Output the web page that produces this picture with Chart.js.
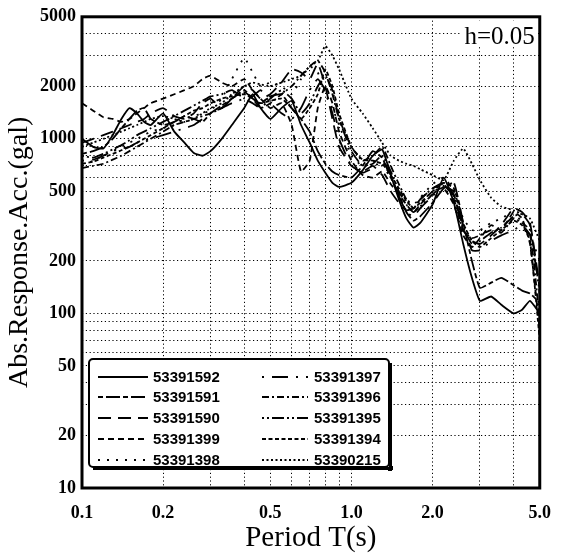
<!DOCTYPE html>
<html><head><meta charset="utf-8">
<script src="https://cdn.jsdelivr.net/npm/chart.js@4/dist/chart.umd.min.js"></script>
<style>html,body{margin:0;padding:0;background:#fff}canvas{display:block}</style>
</head><body>
<canvas id="c" width="566" height="553"></canvas>
<script>
// ---- data ----
const periods = [0.1,0.11,0.12,0.13,0.14,0.15,0.16,0.17,0.18,0.2,0.22,0.24,0.26,0.28,0.3,0.33,0.36,0.4,0.43,0.46,0.5,0.55,0.6,0.65,0.7,0.75,0.8,0.85,0.9,1.0,1.1,1.2,1.3,1.4,1.5,1.6,1.7,1.8,2.0,2.2,2.4,2.6,2.8,3.0,3.3,3.6,4.0,4.3,4.6,5.0];
const seriesNames = ['53391592','53391591','53391590','53391399','53391398','53391397','53391396','53391395','53391394','53390215'];
const s53391592 = [1000,900,880,1050,1300,1500,1400,1250,1200,1400, 1100,950,830,800,850, 1000,1200,1500,1800,1500,1300, 1500,1650,1200,950,750,640,560,530,560, 660,800,870,620,450,350,310,330,420, 600,430,250,160,118, 125,112,100,105,118,100];
const s53391591 = [820,850,900,1000,1150,1300,1450,1500,1300,1200, 1250,1350,1300,1250,1400, 1550,1700,1900,1700,1600,1750, 1800,1500,1300,1100,850,720,650,620,600, 700,850,780,600,480,380,340,360,430, 520,560,330,200,140, 150,160,145,135,130,115];
const s53391590 = [950,1000,1050,1100,1150,1200,1250,1300,1400,1500, 1350,1300,1400,1600,1700, 1500,1700,2000,1900,1700,1800, 2100,2500,2400,2200,2700,2000,1300,900,700, 650,700,620,500,430,390,400,450,520, 560,480,300,260,250, 280,320,400,380,330,140];
const s53391399 = [1600,1450,1330,1300,1250,1300,1400,1500,1600,1700, 1800,1900,2000,2200,2300, 2100,2000,2200,1900,1700,1500, 1600,1200,650,750,1500,2000,1600,1100,750, 620,600,650,550,480,420,380,420,500, 520,420,280,240,270, 320,300,380,350,250,80];
const s53391398 = [700,750,800,850,900,950,1000,1050,1100,1150, 1200,1300,1350,1400,1450, 1700,2200,2900,2400,2000,2100, 2000,1800,2200,2600,2400,1800,1500,1200,800, 700,750,700,600,500,450,420,460,550, 600,500,350,300,300, 330,350,380,330,280,200];
const s53391397 = [750,760,800,850,880,900,950,980,1000,1050, 1100,1150,1200,1300,1400, 1500,1600,1700,1750,1900,1600, 1400,1300,1500,1900,2200,1900,1400,1000,700, 640,680,750,620,470,380,360,400,470, 530,500,320,230,230, 260,280,300,320,280,140];
const s53391396 = [680,700,720,760,800,850,900,950,1000,1100, 1200,1250,1300,1350,1400, 1500,1700,1850,1700,1500,1600, 1800,2000,2300,2600,2800,2400,1800,1300,900, 750,800,900,700,550,450,400,450,520, 550,450,300,270,280, 300,290,350,330,300,90];
const s53391395 = [800,780,820,870,920,980,1050,1100,1150,1250, 1350,1450,1550,1650,1750, 1800,1900,1700,1600,1500,1700, 1900,1700,1400,1600,2000,2300,1900,1300,850, 700,720,800,650,500,420,380,410,480, 540,470,310,250,260, 290,310,360,370,320,130];
const s53391394 = [720,740,780,820,860,900,950,1000,1050,1150, 1250,1350,1450,1500,1600, 1700,1750,1800,1700,1600,1650, 1700,1500,1300,1500,1800,2500,2000,1400,900, 760,750,720,620,520,440,400,430,500, 560,520,330,260,240, 270,300,340,320,260,70];
const s53390215 = [900,950,1000,1050,1100,1150,1200,1250,1300,1350, 1300,1250,1300,1400,1500, 1600,1800,2000,2100,2050,2000, 2100,2200,2300,2600,2800,3400,3000,2500,1700, 1400,1150,950,800,750,720,700,670,620, 580,750,880,720,580, 460,410,390,370,350,260];
const seriesValues = [s53391592,s53391591,s53391590,s53391399,s53391398,s53391397,s53391396,s53391395,s53391394,s53390215];

const xTickValues = [0.1,0.2,0.3,0.4,0.5,0.6,0.7,0.8,0.9,1,2,3,4,5];
const xTickLabels = ['0.1','0.2','','','0.5','','','','','1.0','2.0','','','5.0'];
const yTickValues = [10,20,30,40,50,60,70,80,90,100,200,300,400,500,600,700,800,900,1000,2000,3000,4000,5000];
const yLabelled = [10,20,50,100,200,500,1000,2000,5000];
const dampingText = 'h=0.05';
const xTitle = 'Period T(s)';
const yTitle = 'Abs.Response.Acc.(gal)';

// ---- styles ----
const dashes = [[], [5,3,14,3], [13,7], [6,4], [2,7], [2,8,16,8], [7,3,2,3], [2,3,2,3,12,3], [4,2.5], [2,2.5]];

const datasets = seriesNames.map((name, i) => ({
  label: name,
  data: periods.map((p, j) => ({x: p, y: seriesValues[i][j]})),
  borderColor: '#000',
  borderWidth: 1.8,
  borderDash: dashes[i],
  pointRadius: 0,
  tension: 0.15,
  fill: false
}));

const frameLegend = {
  id: 'frameLegend',
  afterDraw(chart) {
    const ctx = chart.ctx, a = chart.chartArea;
    ctx.save();
    // h label
    ctx.font = '25px "Liberation Serif"';
    ctx.textAlign = 'right';
    ctx.textBaseline = 'alphabetic';
    const tw = ctx.measureText(dampingText).width;
    ctx.fillStyle = '#fff';
    ctx.fillRect(a.right - 6 - tw - 3, a.top + 4, tw + 6, 26);
    ctx.fillStyle = '#000';
    ctx.fillText(dampingText, a.right - 5, a.top + 27);
    // frame
    ctx.lineWidth = 3;
    ctx.strokeStyle = '#000';
    ctx.strokeRect(a.left, a.top, a.right - a.left, a.bottom - a.top);
    // legend box
    const x0 = 89, y0 = 359, w = 300, h = 108;
    ctx.fillStyle = '#000';
    ctx.fillRect(x0 + 4, y0 + h - 1, w, 4);
    ctx.fillRect(x0 + w - 1, y0 + 4, 4, h);
    ctx.fillStyle = '#fff';
    ctx.fillRect(x0, y0, w, h);
    ctx.lineWidth = 2;
    ctx.beginPath();
    if (ctx.roundRect) ctx.roundRect(x0, y0, w, h, 4); else ctx.rect(x0, y0, w, h);
    ctx.stroke();
    const rows = [377, 397, 418, 439, 460];
    ctx.font = 'bold 15px "Liberation Sans"';
    ctx.textAlign = 'left';
    ctx.textBaseline = 'middle';
    chart.data.datasets.forEach((ds, i) => {
      const col = i < 5 ? 0 : 1;
      const y = rows[i % 5];
      const lx0 = col ? 262 : 98, lx1 = col ? 308 : 148, tx = col ? 314 : 153;
      ctx.save();
      ctx.lineWidth = 2;
      ctx.setLineDash(ds.borderDash || []);
      ctx.beginPath();
      ctx.moveTo(lx0, y); ctx.lineTo(lx1, y);
      ctx.stroke();
      ctx.restore();
      ctx.fillStyle = '#000';
      ctx.fillText(ds.label, tx, y + 1);
    });
    ctx.restore();
  }
};

new Chart(document.getElementById('c'), {
  type: 'line',
  data: {datasets},
  options: {
    responsive: false,
    animation: false,
    devicePixelRatio: 1,
    layout: {padding: {top: 15, right: 14, left: 0, bottom: 0}},
    plugins: {legend: {display: false}, tooltip: {enabled: false}},
    scales: {
      x: {
        type: 'logarithmic', min: 0.1, max: 5,
        afterBuildTicks: s => { s.ticks = xTickValues.map(v => ({value: v})); },
        afterFit: s => { s.height = 65; },
        ticks: {
          autoSkip: false, maxRotation: 0, minRotation: 0, padding: 15, color: '#000',
          font: {family: 'Liberation Serif', size: 18, weight: 'bold'},
          callback: (v) => { const k = xTickValues.indexOf(v); return k >= 0 ? xTickLabels[k] : ''; }
        },
        grid: {color: '#000', lineWidth: 1, drawTicks: false},
        border: {display: false, dash: [1.2, 2.6]},
        title: {display: true, text: xTitle, color: '#000', padding: {top: 0, bottom: 0},
          font: {family: 'Liberation Serif', size: 29, lineHeight: 1}}
      },
      y: {
        type: 'logarithmic', min: 10, max: 5000,
        afterBuildTicks: s => { s.ticks = yTickValues.map(v => ({value: v})); },
        afterFit: s => { s.width = 82; },
        ticks: {
          autoSkip: false, padding: 6, color: '#000',
          font: {family: 'Liberation Serif', size: 18, weight: 'bold'},
          callback: (v) => yLabelled.includes(v) ? String(v) : ''
        },
        grid: {color: '#000', lineWidth: 1, drawTicks: false},
        border: {display: false, dash: [1.2, 2.6]},
        title: {display: true, text: yTitle, color: '#000', padding: {top: 3, bottom: 0},
          font: {family: 'Liberation Serif', size: 28, lineHeight: 1.2}}
      }
    }
  },
  plugins: [frameLegend]
});
</script>
</body></html>
